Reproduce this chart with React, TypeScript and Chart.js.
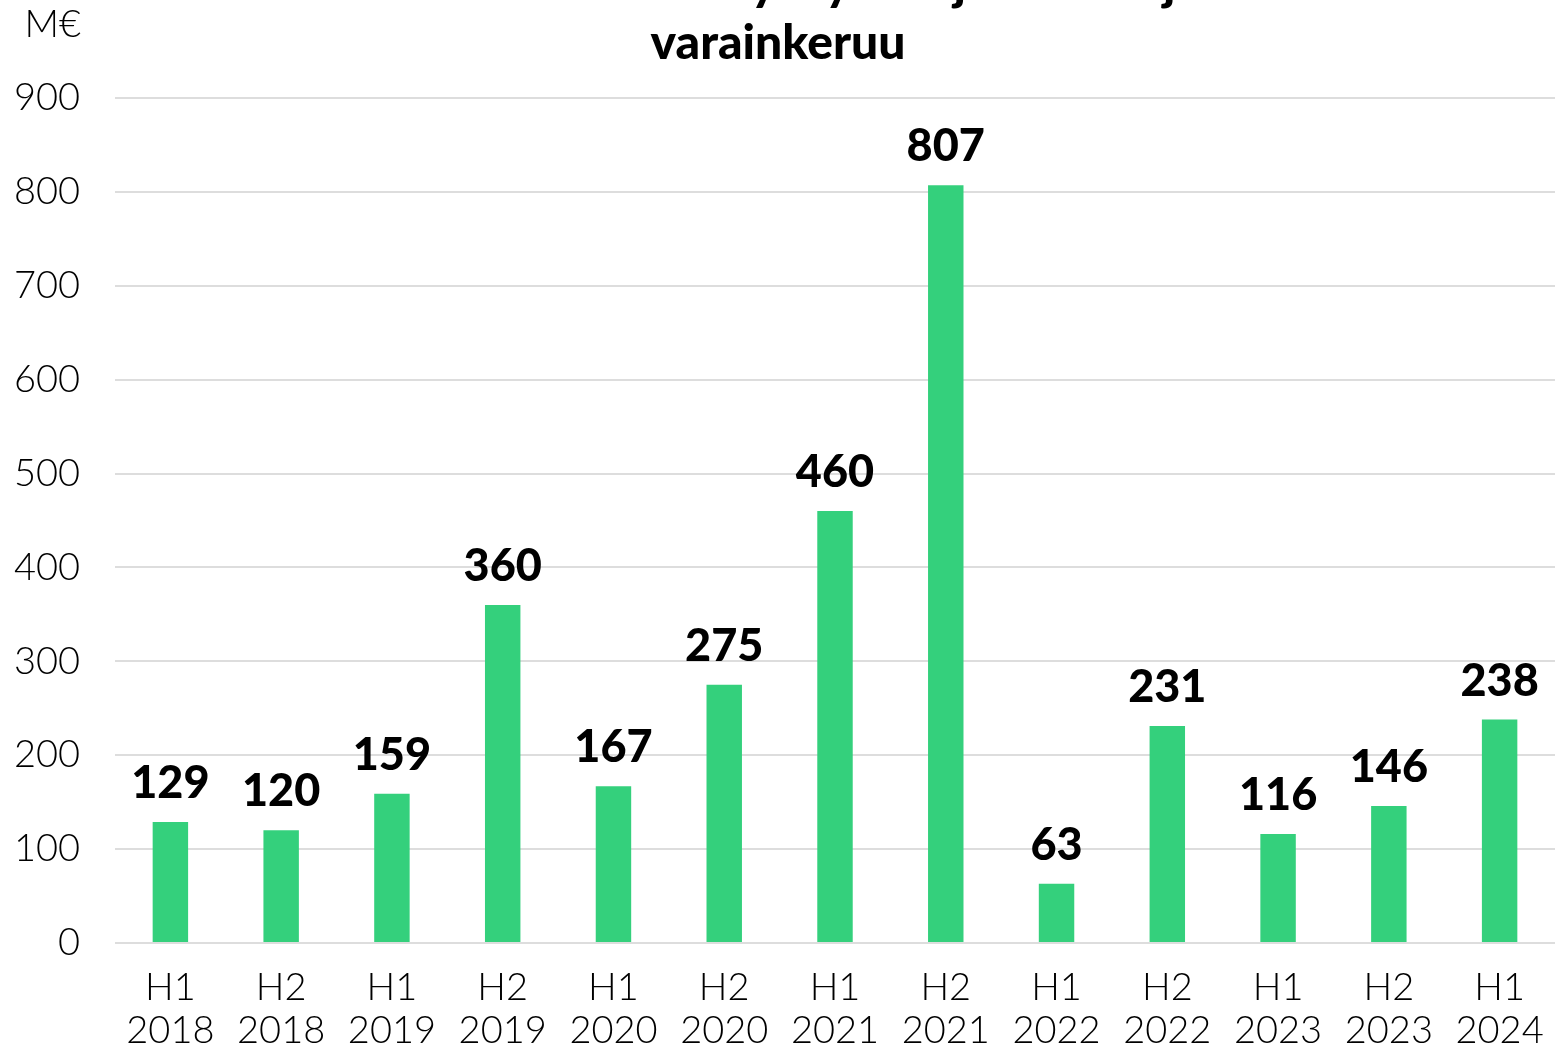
import React, { useEffect, useRef } from "react";
import { Chart, registerables } from "chart.js";

Chart.register(...registerables);

const periods = ["H1", "H2", "H1", "H2", "H1", "H2", "H1", "H2", "H1", "H2", "H1", "H2", "H1"];
const years = ["2018", "2018", "2019", "2019", "2020", "2020", "2021", "2021", "2022", "2022", "2023", "2023", "2024"];
const values = [129, 120, 159, 360, 167, 275, 460, 807, 63, 231, 116, 146, 238];
const titleLines = ["Suomalaisten kasvuyritysten ja rahastojen", "varainkeruu"];
const unitLabel = "M€";

const FONT = "Lato, 'Open Sans', sans-serif";

const overlayPlugin = {
  id: "overlay",
  afterDatasetsDraw(chart: any) {
    const ctx = chart.ctx;
    const meta = chart.getDatasetMeta(0);
    ctx.save();
    ctx.fillStyle = "#000000";
    ctx.font = `900 45px ${FONT}`;
    ctx.textAlign = "center";
    ctx.textBaseline = "alphabetic";
    meta.data.forEach((bar: any, i: number) => {
      ctx.fillText(String(values[i]), bar.x, bar.y - 24);
    });
    ctx.restore();
  },
  afterDraw(chart: any) {
    const ctx = chart.ctx;
    ctx.save();
    ctx.fillStyle = "#000000";
    ctx.textAlign = "center";
    ctx.textBaseline = "alphabetic";
    ctx.font = `900 48px ${FONT}`;
    ctx.fillText(titleLines[0], 778, 0);
    ctx.fillText(titleLines[1], 778, 59);
    ctx.font = `300 38px ${FONT}`;
    ctx.textAlign = "right";
    ctx.fillText(unitLabel, 81, 37);
    ctx.restore();
  },
};

export default function App() {
  const ref = useRef<HTMLCanvasElement | null>(null);
  useEffect(() => {
    if (!ref.current) return;
    const chart = new Chart(ref.current, {
      type: "bar",
      data: {
        labels: periods.map((p, i) => [p, years[i]]),
        datasets: [
          {
            data: values,
            backgroundColor: "rgb(52,208,124)",
            categoryPercentage: 1,
            barPercentage: 0.32,
          },
        ],
      },
      options: {
        animation: false,
        responsive: true,
        maintainAspectRatio: false,
        layout: { padding: { top: 98, right: 5, left: 0, bottom: 0 } },
        plugins: {
          legend: { display: false },
          title: { display: false },
          tooltip: { enabled: false },
        },
        scales: {
          x: {
            grid: { display: false, drawTicks: false },
            border: { display: false },
            ticks: {
              color: "#000000",
              font: { family: FONT, size: 38, weight: "300", lineHeight: 43 / 38 },
              padding: 23,
              maxRotation: 0,
              autoSkip: false,
            },
            afterFit: (scale: any) => {
              scale.height = 106;
              scale.paddingLeft = 0;
              scale.paddingRight = 0;
            },
          },
          y: {
            min: 0,
            max: 900,
            grid: { color: "#dddddd", lineWidth: 2, drawTicks: false },
            border: { display: false },
            ticks: {
              stepSize: 100,
              color: "#000000",
              font: { family: FONT, size: 38, weight: "300" },
              padding: 35,
            },
            afterFit: (scale: any) => {
              scale.width = 115;
              scale.paddingTop = 0;
              scale.paddingBottom = 0;
            },
          },
        },
      },
      plugins: [overlayPlugin],
    });
    return () => chart.destroy();
  }, []);
  return (
    <div style={{ position: "fixed", left: 0, top: 0, width: 1560, height: 1049, background: "#ffffff" }}>
      <canvas ref={ref} />
    </div>
  );
}
